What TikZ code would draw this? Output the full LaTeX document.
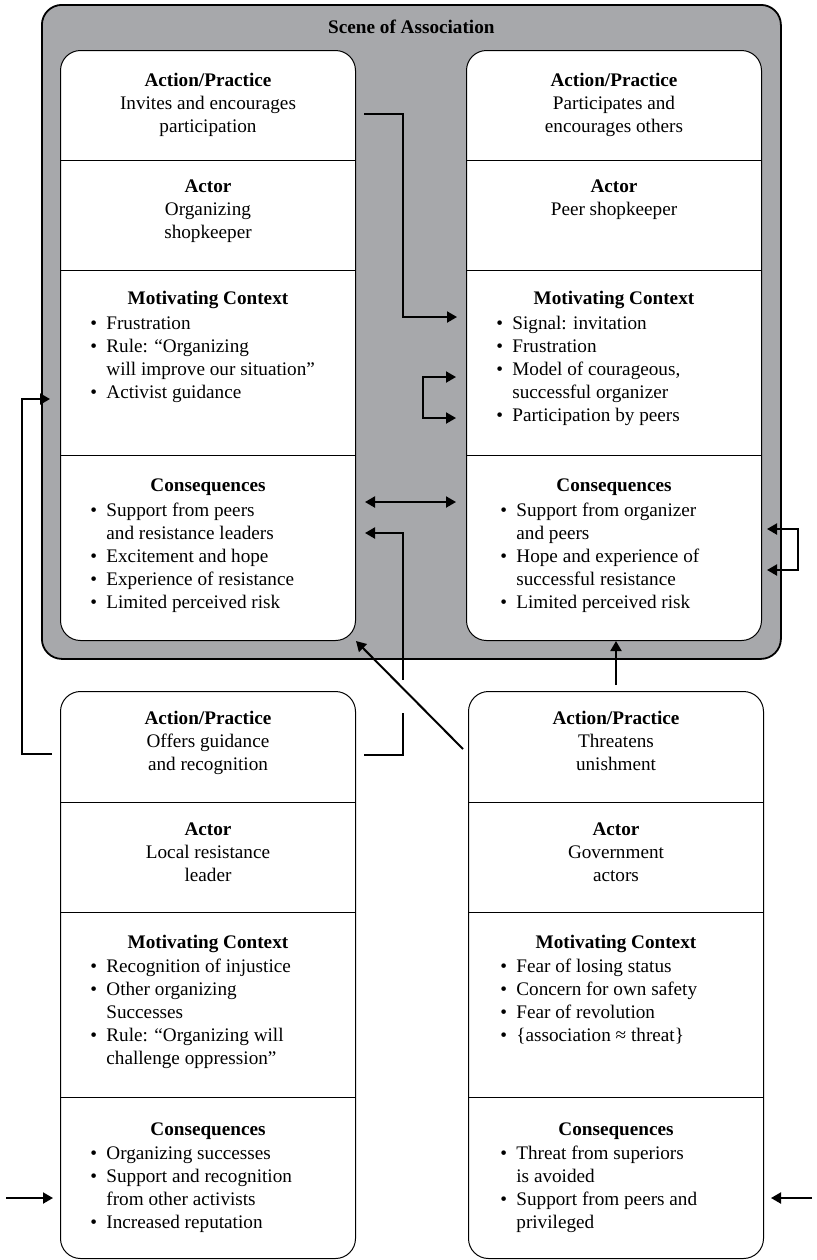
\documentclass[tikz,border=0pt]{standalone}
\usepackage{fontspec}
\setmainfont{Liberation Serif}
\usetikzlibrary{calc,positioning,arrows.meta}
\definecolor{scenegray}{RGB}{167,168,171}
\newcommand{\itm}{\makebox[8pt][l]{\textbullet}}
\newcommand{\cnt}{\hspace*{8pt}}
\tikzset{
	scenebox/.style={draw, line width=0.9pt, fill=scenegray, rounded corners=10pt,
		minimum width=369.5pt, minimum height=327pt, anchor=north west, inner sep=0pt},
	panel/.style={draw, line width=0.5pt, fill=white, rounded corners=10pt,
		minimum width=147.5pt, anchor=north west, inner sep=0pt},
	sect/.style={anchor=north, align=center, inner sep=0pt},
	bullets/.style={anchor=north west, align=left, inner sep=0pt},
	link/.style={line width=1pt}
}

\begin{document}
\begin{tikzpicture}[x=0.5pt, y=-0.5pt, font=\fontsize{9.6pt}{11.5pt}\selectfont,
	>={Triangle[length=5pt,width=5.5pt]}]
	\useasboundingbox (0,0) rectangle (817,1260);

	% scene of association
	\node[scenebox] (scene) at (41,4) {};
	\node[sect] (title) at ($(scene.north)+(0,16)$) {\textbf{Scene of Association}};

	% the four panels
	\node[panel, minimum height=295pt] (org) at (60,50) {};
	\node[panel, minimum height=295pt] (peer) at (466,50) {};
	\node[panel, minimum height=283.5pt] (lead) at (60,691) {};
	\node[panel, minimum height=283.5pt] (gov) at (468,691) {};
	\foreach \b in {org,peer}
		\foreach \d in {110,220,405}
			\draw[line width=0.5pt] ($(\b.north west)+(0,\d)$) -- ($(\b.north east)+(0,\d)$);
	\foreach \b in {lead,gov}
		\foreach \d in {111,221,406}
			\draw[line width=0.5pt] ($(\b.north west)+(0,\d)$) -- ($(\b.north east)+(0,\d)$);

	% organizing shopkeeper
	\node[sect] (orgAct) at ($(org.north)+(0,23)$) {\textbf{Action/Practice}\\Invites and encourages\\participation};
	\node[sect] (orgActor) at ($(org.north)+(0,129)$) {\textbf{Actor}\\Organizing\\shopkeeper};
	\node[sect] (orgMh) at ($(org.north)+(0,241)$) {\textbf{Motivating Context}};
	\node[bullets] (orgMl) at ($(org.north west)+(30,266)$) {\itm Frustration\\\itm Rule: “Organizing\\\cnt will improve our situation”\\\itm Activist guidance};
	\node[sect] (orgCh) at ($(org.north)+(0,428)$) {\textbf{Consequences}};
	\node[bullets] (orgCl) at ($(org.north west)+(30,453)$) {\itm Support from peers\\\cnt and resistance leaders\\\itm Excitement and hope\\\itm Experience of resistance\\\itm Limited perceived risk};

	% peer shopkeeper
	\node[sect] (peerAct) at ($(peer.north)+(0,23)$) {\textbf{Action/Practice}\\Participates and\\encourages others};
	\node[sect] (peerActor) at ($(peer.north)+(0,129)$) {\textbf{Actor}\\Peer shopkeeper};
	\node[sect] (peerMh) at ($(peer.north)+(0,241)$) {\textbf{Motivating Context}};
	\node[bullets] (peerMl) at ($(peer.north west)+(30,266)$) {\itm Signal: invitation\\\itm Frustration\\\itm Model of courageous,\\\cnt successful organizer\\\itm Participation by peers};
	\node[sect] (peerCh) at ($(peer.north)+(0,428)$) {\textbf{Consequences}};
	\node[bullets] (peerCl) at ($(peer.north west)+(34,453)$) {\itm Support from organizer\\\cnt and peers\\\itm Hope and experience of\\\cnt successful resistance\\\itm Limited perceived risk};

	% local resistance leader
	\node[sect] (leadAct) at ($(lead.north)+(0,20)$) {\textbf{Action/Practice}\\Offers guidance\\and recognition};
	\node[sect] (leadActor) at ($(lead.north)+(0,131)$) {\textbf{Actor}\\Local resistance\\leader};
	\node[sect] (leadMh) at ($(lead.north)+(0,244)$) {\textbf{Motivating Context}};
	\node[bullets] (leadMl) at ($(lead.north west)+(30,268)$) {\itm Recognition of injustice\\\itm Other organizing\\\cnt Successes\\\itm Rule: “Organizing will\\\cnt challenge oppression”};
	\node[sect] (leadCh) at ($(lead.north)+(0,431)$) {\textbf{Consequences}};
	\node[bullets] (leadCl) at ($(lead.north west)+(30,455)$) {\itm Organizing successes\\\itm Support and recognition\\\cnt from other activists\\\itm Increased reputation};

	% government actors
	\node[sect] (govAct) at ($(gov.north)+(0,20)$) {\textbf{Action/Practice}\\Threatens\\unishment};
	\node[sect] (govActor) at ($(gov.north)+(0,131)$) {\textbf{Actor}\\Government\\actors};
	\node[sect] (govMh) at ($(gov.north)+(0,244)$) {\textbf{Motivating Context}};
	\node[bullets] (govMl) at ($(gov.north west)+(32,268)$) {\itm Fear of losing status\\\itm Concern for own safety\\\itm Fear of revolution\\\itm \{association ≈ threat\}};
	\node[sect] (govCh) at ($(gov.north)+(0,431)$) {\textbf{Consequences}};
	\node[bullets] (govCl) at ($(gov.north west)+(32,455)$) {\itm Threat from superiors\\\cnt is avoided\\\itm Support from peers and\\\cnt privileged};

	% connectors
	\draw[link,->] ($(org.north east)+(8,64)$) -- ++(39,0) |- ($(peer.north west)+(-9,267)$);
	\draw[link,<->] ($(peer.north west)+(-10,327)$) -- ++(-33,0) -- ++(0,41) -- ++(33,0);
	\draw[link,<->] ($(org.north east)+(9,452)$) -- ($(peer.north west)+(-10,452)$);
	\draw[link,->] ($(lead.north east)+(8,64)$) -- ++(39,0) -- ++(0,-42) ++(0,-33) -- ++(0,-147) -- ($(org.north east)+(9,483)$);
	\draw[link,->] ($(gov.north west)+(-5,58)$) -- (org.south east);
	\draw[link,->] ($(gov.north)+(0,-6)$) -- (gov.north |- peer.south);
	\draw[link,<->] ($(peer.north east)+(5,479)$) -- ++(31,0) -- ++(0,41) -- ++(-31,0);
	\draw[link,->] ($(lead.north west)+(-8,63)$) -- ++(-30,0) |- ($(scene.north west)+(9,395)$);
	\coordinate (inL) at (6,1198);
	\coordinate (inR) at (812,1198);
	\draw[link,->] (inL) -- ($(lead.north west)+(-7,507)$);
	\draw[link,->] (inR) -- ($(gov.north east)+(7,507)$);
\end{tikzpicture}
\end{document}
